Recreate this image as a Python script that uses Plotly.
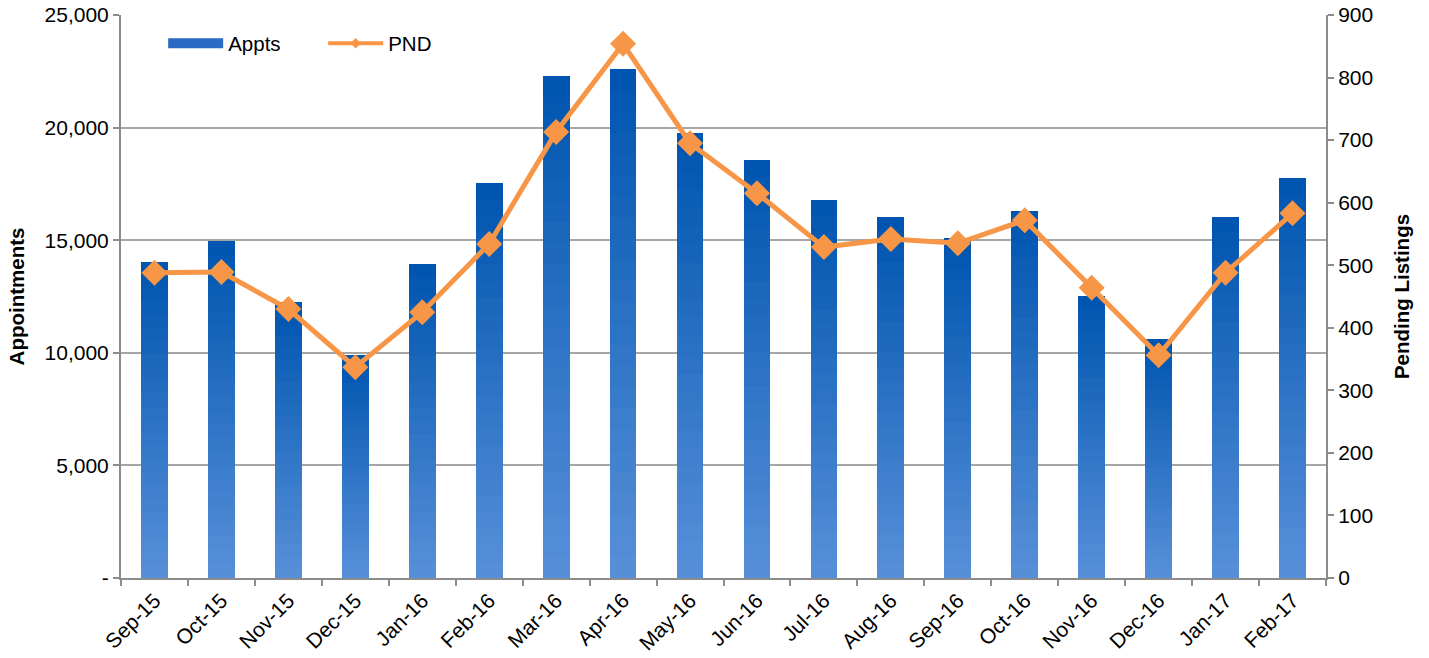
import plotly.graph_objects as go

months = ["Sep-15", "Oct-15", "Nov-15", "Dec-15", "Jan-16", "Feb-16", "Mar-16", "Apr-16",
          "May-16", "Jun-16", "Jul-16", "Aug-16", "Sep-16", "Oct-16", "Nov-16", "Dec-16",
          "Jan-17", "Feb-17"]
appts = [14050, 14960, 12260, 9900, 13940, 17540, 22290, 22600,
         19760, 18560, 16780, 16030, 15100, 16300, 12520, 10610,
         16030, 17760]
pnd = [488, 489, 430, 337, 425, 534, 713, 854,
       695, 615, 529, 542, 535, 572, 464, 356,
       488, 583]

left_ticks = [0, 5000, 10000, 15000, 20000, 25000]
left_ticktext = ["-", "5,000", "10,000", "15,000", "20,000", "25,000"]

FONT = "Liberation Sans, Arial, sans-serif"
top_col = (0x00, 0x55, 0xB0)
bot_col = (0x56, 0x8F, 0xD8)
N = 24

fig = go.Figure()
# gradient bars built from stacked slices of each value
for k in range(N):
    t = k / (N - 1)
    c = tuple(round(bot_col[i] + (top_col[i] - bot_col[i]) * t) for i in range(3))
    fig.add_trace(go.Bar(
        x=months, y=[v / N for v in appts],
        marker=dict(color="rgb(%d,%d,%d)" % c, line=dict(width=0)),
        name="Appts", legendgroup="appts", showlegend=False,
        hoverinfo="skip" if k != N - 1 else None,
        yaxis="y",
    ))

fig.add_trace(go.Scatter(
    x=months, y=pnd, name="PND", yaxis="y2", mode="lines+markers",
    line=dict(color="#F79646", width=5),
    marker=dict(symbol="diamond", size=20, color="#F79646"),
    showlegend=False,
))

# legend-only entries mimicking the original legend keys
fig.add_trace(go.Scatter(x=[None], y=[None], mode="lines", name="Appts",
                         line=dict(color="#2A6AC4", width=10)))
fig.add_trace(go.Scatter(x=[None], y=[None], mode="lines+markers", name="PND",
                         line=dict(color="#F79646", width=4),
                         marker=dict(symbol="diamond", size=8, color="#F79646")))

fig.update_layout(
    width=1429, height=658,
    margin=dict(l=121, r=103, t=15, b=80, autoexpand=False),
    barmode="stack", bargap=0.6,
    plot_bgcolor="white", paper_bgcolor="white",
    font=dict(family=FONT, size=21, color="black"),
    showlegend=True,
    legend=dict(orientation="h", x=0.035, y=0.985, xanchor="left", yanchor="top",
                font=dict(size=20.5), bgcolor="rgba(0,0,0,0)",
                itemwidth=55, entrywidth=90, entrywidthmode="pixels",
                traceorder="normal", tracegroupgap=0),
    xaxis=dict(range=[-0.5, len(months) - 0.5],
               showline=True, linecolor="#8C8C8C", linewidth=2, ticks="outside",
               tickson="boundaries", ticklen=6, tickcolor="#8C8C8C", tickwidth=2,
               tickangle=-45, tickfont=dict(size=21), automargin=False),
    yaxis=dict(range=[0, 25000], tickvals=left_ticks, ticktext=left_ticktext,
               showline=True, linecolor="#8C8C8C", linewidth=2, ticks="outside",
               ticklen=6, tickcolor="#8C8C8C", tickwidth=2, ticklabeloverflow="allow",
               showgrid=True, gridcolor="#A6A6A6", gridwidth=2, zeroline=False,
               automargin=False,
               title=dict(text="<b>Appointments</b>", font=dict(size=20.5), standoff=14)),
    yaxis2=dict(range=[0, 900], dtick=100, overlaying="y", side="right",
                showline=True, linecolor="#8C8C8C", linewidth=2, ticks="outside",
                ticklen=6, tickcolor="#8C8C8C", tickwidth=2, ticklabeloverflow="allow",
                showgrid=False, zeroline=False, automargin=False,
                title=dict(text="<b>Pending Listings</b>", font=dict(size=20.5), standoff=22)),
)

fig.write_html("out.html", config={"displayModeBar": False},
               post_script="document.body.style.margin='0px';")
